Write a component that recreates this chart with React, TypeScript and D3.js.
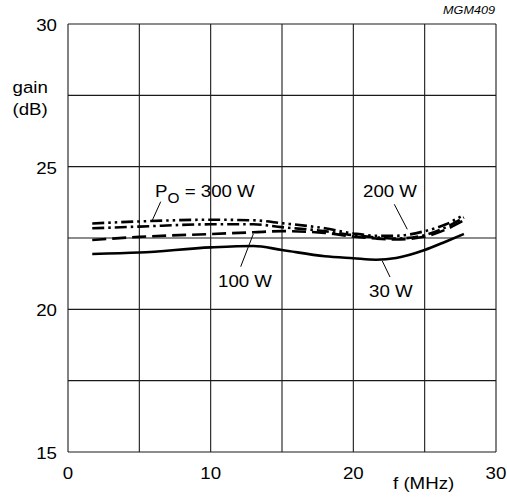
import React from "react";
import * as d3 from "d3";

const W = 507;
const H = 497;

const xTicks = [0, 10, 20, 30];
const yTicks = [15, 20, 25, 30];
const xGrid = [0, 5, 10, 15, 20, 25, 30];
const yGrid = [15, 17.5, 20, 22.5, 25, 27.5, 30];

const freq = [1.7, 5, 10, 13, 15, 18, 20, 21.6, 23, 25, 26.5, 27.75];
const gain30W = [21.94, 21.99, 22.17, 22.22, 22.08, 21.86, 21.79, 21.74, 21.8, 22.08, 22.38, 22.64];
const gain100W = [22.43, 22.54, 22.64, 22.7, 22.74, 22.68, 22.55, 22.48, 22.45, 22.55, 22.8, 23.12];
const gain200W = [22.84, 22.9, 22.98, 22.98, 22.88, 22.74, 22.6, 22.52, 22.48, 22.6, 22.88, 23.22];
const gain300W = [23.01, 23.08, 23.14, 23.12, 23.02, 22.84, 22.66, 22.58, 22.58, 22.74, 22.98, 23.32];

const series = [
  { name: "30 W", values: gain30W, dash: "" },
  { name: "100 W", values: gain100W, dash: "14 6" },
  { name: "200 W", values: gain200W, dash: "12 4 2.5 4" },
  { name: "300 W", values: gain300W, dash: "12 4 2.5 4 2.5 4" },
];

const SX = 1.1;

function T({ x, y, anchor = "start", size = 17, italic = false, children }: any) {
  return (
    <text
      transform={`translate(${x},${y}) scale(${SX},1)`}
      fontSize={size}
      textAnchor={anchor}
      fontStyle={italic ? "italic" : "normal"}
      fill="#000"
    >
      {children}
    </text>
  );
}

export default function App() {
  const x = d3.scaleLinear().domain([0, 30]).range([68, 496]);
  const y = d3.scaleLinear().domain([15, 30]).range([452, 24]);
  const line = d3
    .line<number>()
    .x((_, i) => x(freq[i]))
    .y((d) => y(d))
    .curve(d3.curveMonotoneX);
  const font = "'Liberation Sans', Arial, sans-serif";
  return (
    <svg width={W} height={H} style={{ position: "absolute", left: 0, top: 0 }} fontFamily={font}>
      <rect width={W} height={H} fill="#fff" />
      {xGrid.map((v) => (
        <line key={"gx" + v} x1={x(v)} x2={x(v)} y1={y(15)} y2={y(30)} stroke="#1a1a1a" strokeWidth={1.1} />
      ))}
      {yGrid.map((v) => (
        <line key={"gy" + v} x1={x(0)} x2={x(30)} y1={y(v)} y2={y(v)} stroke="#1a1a1a" strokeWidth={1.1} />
      ))}
      {series.map((s) => (
        <path
          key={s.name}
          d={line(s.values) || ""}
          fill="none"
          stroke="#000"
          strokeWidth={2.6}
          strokeDasharray={s.dash || undefined}
        />
      ))}
      {yTicks.map((v) => (
        <T key={"yt" + v} x={57} y={y(v) + 7} anchor="end">
          {v}
        </T>
      ))}
      {xTicks.map((v) => (
        <T key={"xt" + v} x={x(v)} y={479} anchor="middle">
          {v}
        </T>
      ))}
      <T x={12.5} y={93}>gain</T>
      <T x={12.5} y={115}>(dB)</T>
      <T x={393} y={489}>f (MHz)</T>
      <T x={495} y={14} size={11.5} italic anchor="end">MGM409</T>

      <T x={155} y={197}>
        P<tspan fontSize={14} dy={6}>O</tspan><tspan dy={-6}> = 300 W</tspan>
      </T>
      <line x1={160.7} y1={201.7} x2={151.7} y2={221.7} stroke="#000" strokeWidth={1} />
      <T x={363} y={197}>200 W</T>
      <line x1={394.3} y1={204.3} x2={407.3} y2={229.3} stroke="#000" strokeWidth={1} />
      <T x={218} y={287}>100 W</T>
      <line x1={240.7} y1={266.7} x2={253.3} y2={234} stroke="#000" strokeWidth={1} />
      <T x={369} y={297}>30 W</T>
      <line x1={390} y1={277} x2={382.3} y2={261} stroke="#000" strokeWidth={1} />
    </svg>
  );
}
